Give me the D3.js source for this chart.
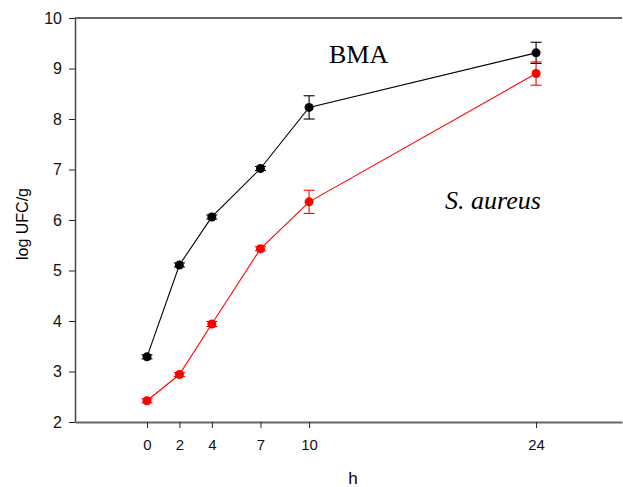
<!DOCTYPE html>
<html>
<head>
<meta charset="utf-8">
<script src="https://cdn.jsdelivr.net/npm/d3@7"></script>
<style>
  body { margin: 0; background: #fff; }
  svg { display: block; }
</style>
</head>
<body>
<svg id="svg"></svg>
<script>
// data
const hours = [0, 2, 4, 7, 10, 24];
const bmaValues = [3.29, 5.11, 6.06, 7.02, 8.23, 9.31];
const bmaErrors = [0.04, 0.04, 0.04, 0.04, 0.23, 0.21];
const aureusValues = [2.42, 2.94, 3.94, 5.43, 6.36, 8.90];
const aureusErrors = [0.04, 0.04, 0.05, 0.04, 0.23, 0.23];
const yTicks = [2, 3, 4, 5, 6, 7, 8, 9, 10];

const width = 623;
const height = 487;
const margin = { top: 18, right: 1, bottom: 65, left: 75 };
const sans = "Arial, 'Liberation Sans', sans-serif";
const serif = "'Liberation Serif', 'Times New Roman', serif";

let svg = d3.select("#svg").attr("width", width).attr("height", height);

let xScale = d3.scaleLinear()
    .domain([-4.44, 29.3])
    .range([margin.left, width - margin.right]);

let yScale = d3.scaleLinear()
    .domain([2, 10])
    .range([height - margin.bottom, margin.top]);

// top frame line
svg.append("line")
    .attr("x1", margin.left).attr("x2", width - margin.right)
    .attr("y1", yScale(10)).attr("y2", yScale(10))
    .attr("stroke", "#333").attr("stroke-width", 1.3);

// x axis
let xAxis = svg.append("g")
    .attr("transform", `translate(0,${yScale(2)})`)
    .call(d3.axisBottom(xScale).tickValues(hours).tickSize(6).tickPadding(11).tickSizeOuter(0));
xAxis.select(".domain").attr("stroke", "#666").attr("stroke-width", 2);
xAxis.selectAll(".tick line").attr("stroke", "#222");
xAxis.selectAll("text").style("font-family", sans).style("font-size", "15px").attr("fill", "#111");

// y axis
let yAxis = svg.append("g")
    .attr("transform", `translate(${margin.left},0)`)
    .call(d3.axisLeft(yScale).tickValues(yTicks).tickSize(6).tickPadding(7).tickSizeOuter(0));
yAxis.select(".domain").attr("stroke", "#444").attr("stroke-width", 1.5);
yAxis.selectAll(".tick line").attr("stroke", "#222");
yAxis.selectAll("text").style("font-family", sans).style("font-size", "16px").attr("fill", "#111");

// axis titles
svg.append("text")
    .attr("x", 353).attr("y", 484)
    .attr("text-anchor", "middle")
    .style("font-family", sans)
    .style("font-size", "17px")
    .text("h");

svg.append("text")
    .attr("transform", `translate(28,${(yScale(2) + yScale(10)) / 2 + 4}) rotate(-90)`)
    .attr("text-anchor", "middle")
    .style("font-family", sans)
    .style("font-size", "16px")
    .text("log UFC/g");

function drawSeries(values, errors, colour) {
    const pts = hours.map((h, i) => ({ h: h, v: values[i], e: errors[i] }));
    const line = d3.line().x(d => xScale(d.h)).y(d => yScale(d.v));

    svg.append("path")
        .datum(pts)
        .attr("fill", "none")
        .attr("stroke", colour)
        .attr("stroke-width", 1.1)
        .attr("d", line);

    const bars = svg.append("g").attr("stroke", colour).attr("stroke-width", 1.1);
    pts.forEach(d => {
        const x = xScale(d.h);
        const y0 = yScale(d.v - d.e);
        const y1 = yScale(d.v + d.e);
        bars.append("line").attr("x1", x).attr("x2", x).attr("y1", y0).attr("y2", y1);
        bars.append("line").attr("x1", x - 5.5).attr("x2", x + 5.5).attr("y1", y0).attr("y2", y0);
        bars.append("line").attr("x1", x - 5.5).attr("x2", x + 5.5).attr("y1", y1).attr("y2", y1);
    });

    svg.append("g").selectAll("circle")
        .data(pts)
        .join("circle")
        .attr("cx", d => xScale(d.h))
        .attr("cy", d => yScale(d.v))
        .attr("r", 4.5)
        .attr("fill", colour);
}

drawSeries(bmaValues, bmaErrors, "#000000");
drawSeries(aureusValues, aureusErrors, "#ff0000");

// annotations
svg.append("text")
    .attr("x", 329).attr("y", 63)
    .style("font-family", serif)
    .style("font-size", "26px")
    .text("BMA");

svg.append("text")
    .attr("x", 445).attr("y", 209)
    .style("font-family", serif)
    .style("font-size", "26px")
    .style("font-style", "italic")
    .text("S. aureus");
</script>
</body>
</html>
